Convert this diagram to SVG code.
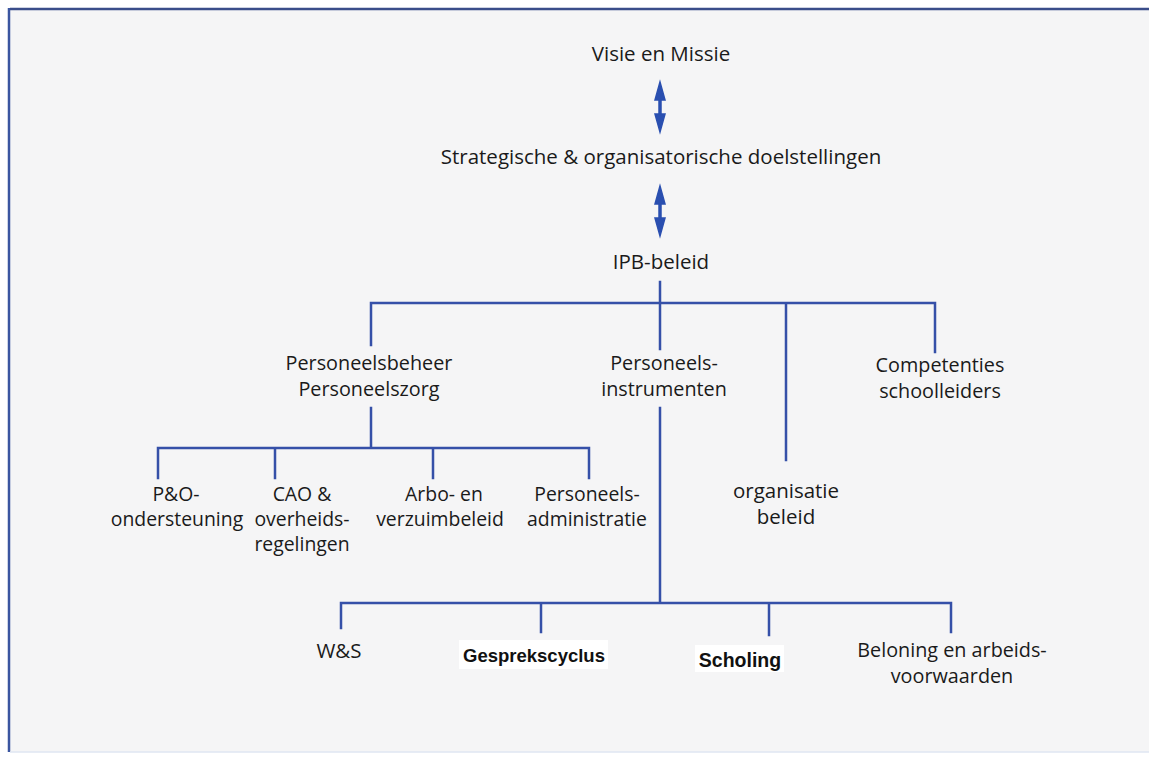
<svg xmlns="http://www.w3.org/2000/svg" width="1149" height="758" viewBox="0 0 1149 758">
<style>
.t{font-family:"Open Sans","Noto Sans",sans-serif;font-size:20.5px;fill:#1a1a1a;text-anchor:middle}
.m{font-size:19.8px}
.s{font-size:19.4px}
.b{font-family:"Liberation Sans",Arial,sans-serif;font-size:18.5px;font-weight:bold;fill:#111;text-anchor:middle}
.c{stroke:#3550a8;stroke-width:2.5;fill:none;stroke-linecap:square}
.a{fill:#2a4fb0;stroke:#2a4fb0;stroke-width:1.5}
</style>
<rect x="0" y="0" width="1149" height="758" fill="#ffffff"/>
<rect x="10" y="10" width="1139" height="742" fill="#f5f5f6"/>
<line x1="10" y1="9" x2="1149" y2="9" stroke="#3a4d8a" stroke-width="2.5"/>
<line x1="9" y1="8" x2="9" y2="752" stroke="#3a55a0" stroke-width="2.5"/>
<line x1="10" y1="752" x2="1149" y2="752" stroke="#dfe6f2" stroke-width="1.5"/>

<g id="connectors">
  <path class="a" d="M660,82 L655,100 L659,100 L659,114 L655,114 L660,132 L665,114 L661,114 L661,100 L665,100 Z"/>
  <path class="a" d="M660,186 L655,204 L659,204 L659,218 L655,218 L660,236 L665,218 L661,218 L661,204 L665,204 Z"/>
  <path class="c" d="M660,282 V349 M371,345 V303 H935 V352 M786,303 V460"/>
  <path class="c" d="M371,408 V448 M158,478 V448 H589 V478 M275,448 V478 M433,448 V478"/>
  <path class="c" d="M660,408 V603 M341,628 V603 H951 V632 M541,603 V632 M769,603 V635"/>
</g>

<g id="visie"><text class="t" x="661" y="61">Visie en Missie</text></g>
<g id="strategische"><text class="t" x="661" y="164">Strategische &amp; organisatorische doelstellingen</text></g>
<g id="ipb"><text class="t" x="661" y="269">IPB-beleid</text></g>
<g id="personeelsbeheer"><text class="t m" x="369" y="370">Personeelsbeheer<tspan x="369" dy="25.5">Personeelszorg</tspan></text></g>
<g id="personeelsinstrumenten"><text class="t m" x="664" y="370">Personeels-<tspan x="664" dy="25.5">instrumenten</tspan></text></g>
<g id="competenties"><text class="t m" x="940" y="372">Competenties<tspan x="940" dy="25.5">schoolleiders</tspan></text></g>
<g id="po"><text class="t s" x="176" y="501">P&amp;O-<tspan x="177" dy="25">ondersteuning</tspan></text></g>
<g id="cao"><text class="t s" x="302" y="501">CAO &amp;<tspan x="302" dy="25">overheids-</tspan><tspan x="302" dy="25">regelingen</tspan></text></g>
<g id="arbo"><text class="t s" x="444" y="501">Arbo- en<tspan x="440" dy="25">verzuimbeleid</tspan></text></g>
<g id="administratie"><text class="t s" x="587" y="501">Personeels-<tspan x="587" dy="25">administratie</tspan></text></g>
<g id="organisatie"><text class="t" x="786" y="498">organisatie<tspan x="786" dy="26">beleid</tspan></text></g>
<g id="ws"><text class="t" x="339" y="658">W&amp;S</text></g>
<g id="gesprekscyclus"><rect x="459" y="640" width="149" height="29" fill="#ffffff"/><text class="b" x="534" y="662">Gesprekscyclus</text></g>
<g id="scholing"><rect x="695" y="645" width="89" height="27" fill="#ffffff"/><text class="b" x="740" y="667" style="font-size:19.5px">Scholing</text></g>
<g id="beloning"><text class="t m" x="952" y="657">Beloning en arbeids-<tspan x="952" dy="25.5">voorwaarden</tspan></text></g>
</svg>
